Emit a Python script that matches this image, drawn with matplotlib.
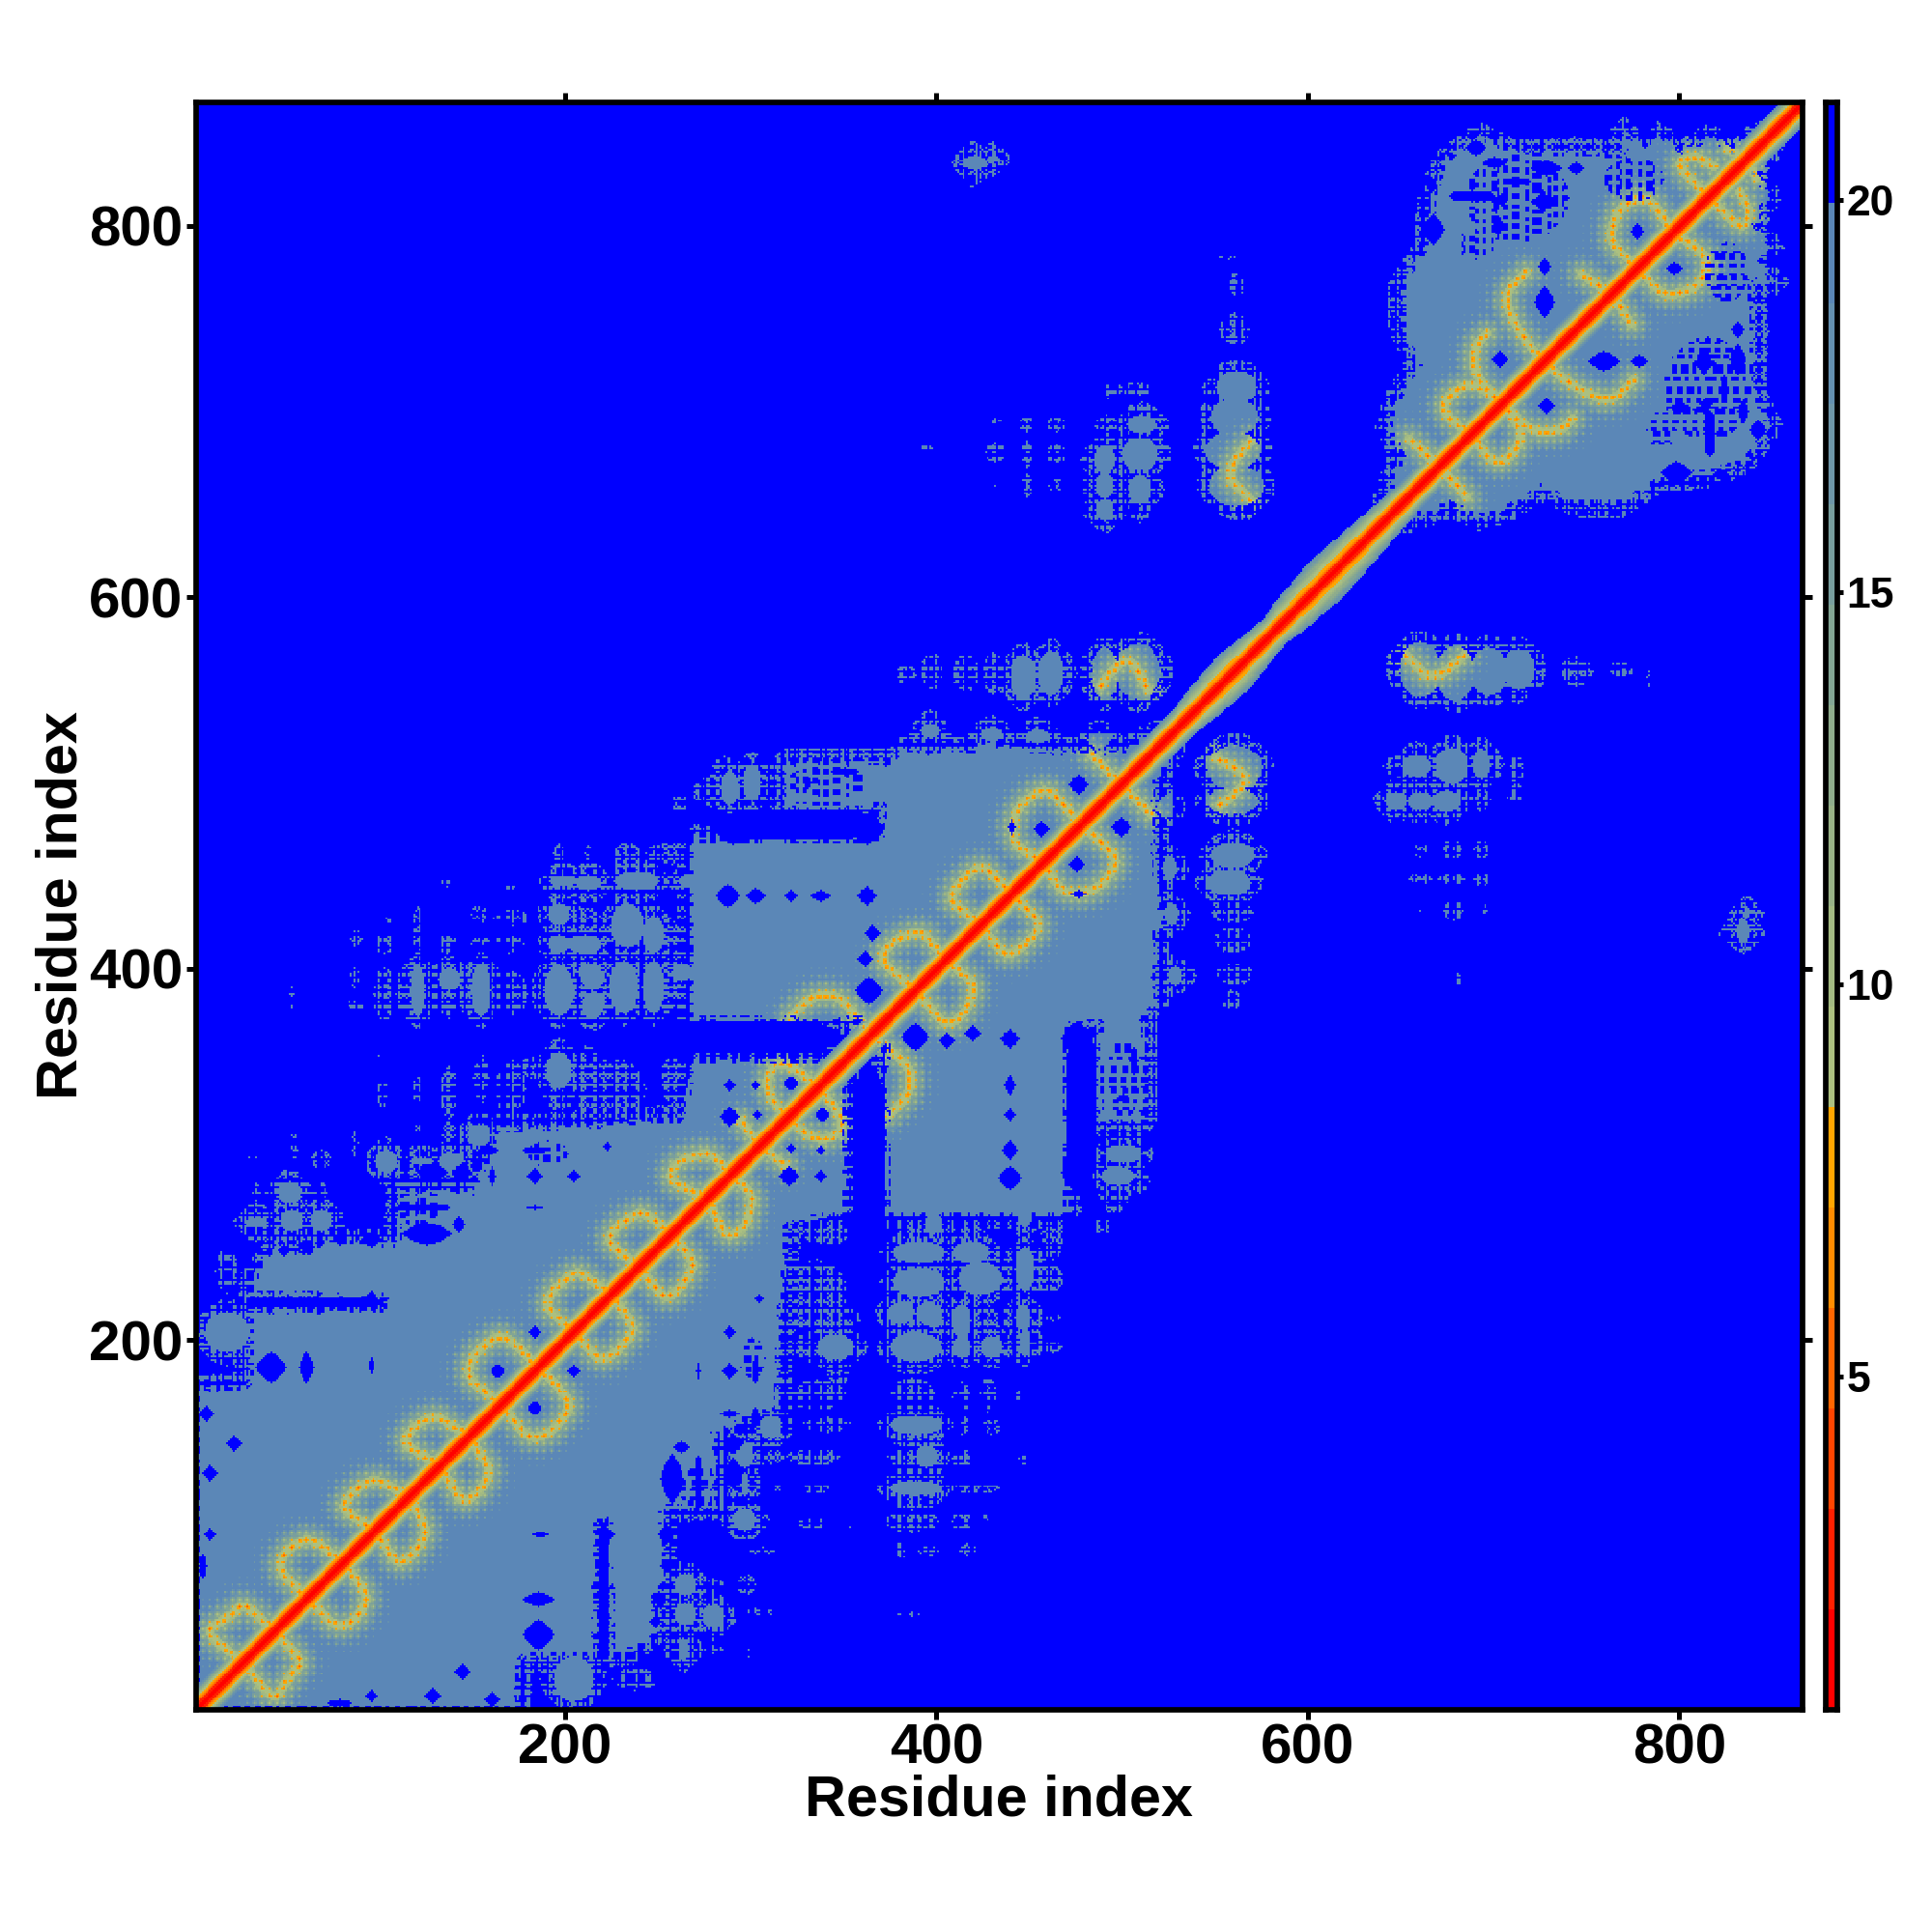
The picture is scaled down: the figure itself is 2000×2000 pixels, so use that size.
import numpy as np
import matplotlib
matplotlib.use("Agg")
import matplotlib.pyplot as plt
from matplotlib.colors import ListedColormap, BoundaryNorm
from matplotlib.path import Path

N_RES = 866
TICKS = [200, 400, 600, 800]
CB_TICKS = [5, 10, 15, 20]
LEVELS = [0.75 + 1.28125 * i for i in range(17)]
BAND_COLORS = ["#ff0000", "#ff2000", "#ff4500", "#ff6600", "#ff8c00", "#ffa500",
               "#acc080", "#a3ba82", "#98b287", "#8eac8c", "#82a594", "#789e9e",
               "#6e96a8", "#6490b0", "#5b87b7", "#0000ff"]
GRAY_VALUE = 19.0
BLUE_VALUE = 21.0

# mean distance by sequence separation |i-j|
DIAG_PROFILE = [1.0, 1.4, 2.2, 3.3, 4.8, 6.2, 7.6, 9.0, 10.5, 12.5, 14.5, 16.5, 18.5]
# widening of the outer diagonal band along the sequence
DIAG_MID = [500, 522, 532, 545, 560, 572, 582, 590, 610, 628, 640, 655]
DIAG_WIDEN = [1.0, 1.0, 1.0, 1.6, 1.9, 1.4, 1.1, 1.6, 2.1, 1.7, 1.4, 1.0]

# solid regions below the diagonal (residue x, residue y)
POLY_N1 = [(1, 1), (174, 1), (176, 28), (216, 28), (216, 100), (222, 104), (224, 30), (236, 32),
           (252, 44), (246, 55), (252, 70), (252, 108), (280, 110), (280, 150), (314, 162),
           (316, 205), (320, 262), (351, 268), (351, 350), (362, 362)]
POLY_N2 = [(372, 266), (470, 266), (470, 368), (487, 370), (487, 316), (511, 316), (511, 372),
           (517, 380), (518, 420), (524, 424), (519, 442), (517, 460), (517, 500), (523, 508),
           (528, 522), (372, 372)]
POLY_C = [(650, 640), (676, 649), (693, 642), (711, 649), (725, 658), (745, 650), (768, 649),
          (790, 663), (815, 666), (835, 672), (841, 680), (849, 692), (839, 715), (841, 743),
          (839, 770), (853, 769), (841, 781), (849, 788), (841, 802), (848, 815), (839, 833),
          (846, 836), (851, 847), (860, 855), (866, 866), (650, 650)]

# solid islands: x, y, rx, ry
BLOBS = [(204, 17, 11, 12), (345, 196, 10, 7), (388, 196, 14, 8), (380, 214, 7, 6), (395, 214, 7, 6),
         (413, 210, 5, 9), (413, 196, 5, 6), (429, 196, 6, 6), (447, 198, 3, 7), (446, 212, 4, 7),
         (310, 153, 6, 6), (388, 154, 14, 5), (296, 138, 5, 7), (394, 137, 6, 6), (388, 120, 14, 4),
         (296, 122, 2, 6), (296, 103, 6, 6), (264, 68, 6, 6), (264, 52, 6, 6), (279, 51, 6, 6),
         (263, 33, 3, 6), (447, 238, 5, 12), (423, 233, 12, 9), (418, 247, 10, 6), (390, 231, 14, 8),
         (390, 247, 14, 6), (398, 212, 5, 6), (382, 216, 5, 5), (398, 262, 5, 5), (447, 270, 4, 10),
         (497, 288, 9, 5), (500, 300, 10, 5), (526, 429, 4, 6), (525, 454, 4, 6), (523, 487, 4, 6),
         (528, 396, 4, 5),
         (660, 561, 11, 15), (679, 559, 10, 15), (697, 560, 10, 13), (713, 561, 9, 11),
         (677, 509, 9, 10), (693, 510, 5, 8), (658, 509, 8, 6), (647, 490, 6, 5), (660, 490, 7, 5),
         (674, 490, 7, 6), (560, 508, 15, 12), (559, 490, 14, 7), (559, 461, 12, 7), (557, 446, 12, 7),
         (834, 420, 4, 6), (836, 430, 2, 3)]
# loose, combed islands: x, y, rx, ry
SPARSE = [(337, 212, 22, 7), (331, 196, 8, 8), (427, 210, 6, 8), (462, 196, 5, 3), (462, 212, 4, 2),
          (335, 170, 16, 8), (347, 181, 6, 5), (386, 170, 13, 9), (413, 169, 5, 8), (427, 170, 5, 9),
          (444, 169, 2, 3), (341, 154, 14, 4), (413, 154, 4, 5), (429, 153, 6, 4), (310, 137, 8, 4),
          (333, 137, 14, 5), (380, 137, 7, 5), (413, 136, 5, 5), (446, 136, 2, 4), (421, 120, 12, 3),
          (335, 120, 7, 3), (314, 120, 2, 2), (333, 101, 8, 3), (353, 101, 4, 2), (386, 102, 14, 6),
          (413, 102, 5, 5), (425, 103, 2, 3), (306, 86, 7, 2), (381, 87, 3, 5), (395, 86, 5, 3),
          (416, 87, 5, 3), (279, 68, 6, 3), (297, 68, 5, 6), (302, 53, 10, 2), (386, 52, 7, 1),
          (279, 33, 5, 2), (298, 31, 2, 2), (237, 17, 12, 6), (263, 18, 1, 3), (447, 204, 4, 14),
          (416, 216, 6, 6), (462, 257, 6, 14), (460, 233, 8, 7), (495, 278, 8, 10), (489, 261, 5, 4),
          (335, 225, 16, 18), (340, 258, 12, 8), (500, 285, 14, 8), (530, 397, 8, 3), (528, 430, 6, 2),
          (645, 562, 5, 8), (744, 560, 9, 8), (768, 561, 7, 4), (783, 557, 1, 5), (658, 509, 10, 9),
          (647, 509, 7, 5), (712, 507, 4, 7), (692, 491, 6, 6), (712, 495, 3, 5), (677, 464, 5, 5),
          (693, 464, 4, 5), (660, 464, 4, 4), (677, 448, 7, 3), (693, 448, 4, 4), (660, 448, 6, 3),
          (678, 431, 5, 5), (694, 431, 2, 4), (660, 432, 3, 1), (559, 430, 11, 6), (559, 415, 10, 7),
          (560, 397, 10, 6), (558, 383, 6, 5), (833, 419, 13, 4), (711, 492, 4, 2), (711, 506, 4, 2),
          (680, 394, 2, 3)]
# blue holes inside the solid regions: x, y, rx, ry
HOLES = [(220, 64, 3, 36), (204, 183, 3, 3), (183, 163, 3.5, 3.5), (186, 95, 4, 1.5), (222, 95, 4, 3),
         (185, 60, 8, 4), (185, 41, 8, 8), (144, 21, 4, 4), (128, 8, 4, 4), (95, 8, 3, 3), (78, 4, 6, 2),
         (160, 6, 4, 4), (257, 125, 6, 13), (271, 123, 2, 14), (288, 183, 4, 4), (288, 160, 5, 2),
         (290, 144, 5, 5), (290, 128, 5, 8), (271, 183, 1, 4), (302, 183, 1.5, 6), (302, 158, 3, 5),
         (304, 222, 2, 2), (288, 204, 3, 3), (320, 337, 3, 3), (338, 321, 3.5, 3.5), (321, 303, 2.5, 2.5),
         (337, 302, 2, 2), (320, 288, 5, 5), (337, 288, 3, 3), (388, 363, 7, 7), (405, 361, 4, 4),
         (419, 365, 4, 4), (439, 362, 5, 5), (439, 337, 3, 5), (439, 321, 3, 3), (439, 302, 4, 5),
         (439, 287, 6, 6), (475, 362, 8, 9), (477, 323, 8, 46), (499, 476, 5, 5), (475, 456, 4, 4),
         (476, 440, 4, 2), (363, 298, 8, 50), (797, 777, 4, 3), (759, 727, 8, 5), (728, 703, 4, 4),
         (813, 727, 4, 7), (798, 667, 8, 6), (778, 727, 4, 3), (813, 726, 6, 3), (814, 704, 3, 3),
         (254, 95, 4, 5), (254, 78, 3, 3), (250, 60, 3, 4), (248, 48, 3, 3), (262, 142, 4, 3),
         (832, 728, 3.5, 5), (811, 701, 4, 1.5), (800, 702, 5, 3), (816, 688, 3, 12), (834, 700, 3, 6),
         (831, 728, 4, 8), (831, 744, 3, 4), (822, 666, 4, 3), (824, 712, 2, 7), (842, 690, 4, 5),
         (470, 290, 3, 6), (506, 350, 2, 7), (500, 330, 3, 2)]
# combed-away zones: x, y, rx, ry
FRAYED = [(815, 712, 24, 28), (825, 775, 12, 16), (790, 690, 8, 10), (500, 340, 9, 22),
          (270, 120, 9, 11), (300, 190, 7, 11), (800, 820, 8, 6)]

# orange ridges below the diagonal
RINGS = [
    [(26, 26), (36, 13), (43, 6), (48, 14), (53, 21), (58, 26), (48, 37), (43, 43)],
    [(60, 60), (68, 53), (75, 46), (82, 46), (89, 52), (93, 62), (86, 72), (80, 80)],
    [(97, 97), (103, 88), (109, 79), (116, 83), (121, 89), (125, 97), (120, 107), (115, 115)],
    [(132, 132), (138, 122), (144, 112), (151, 116), (156, 122), (159, 130), (154, 138), (148, 147)],
    [(165, 165), (172, 156), (179, 147), (189, 148), (197, 156), (203, 165), (195, 175), (185, 185)],
    [(204, 204), (211, 196), (218, 189), (226, 192), (232, 199), (237, 206), (231, 215), (224, 224)],
    [(239, 239), (246, 230), (253, 222), (260, 226), (265, 233), (269, 241), (263, 249), (257, 257)],
    [(276, 276), (281, 265), (286, 255), (296, 259), (301, 276), (296, 282), (290, 289)],
    [(304, 305), (312, 298), (318, 294)],
    [(319, 320), (328, 311), (340, 307), (350, 314), (345, 325), (337, 334)],
    [(366, 363), (374, 356), (382, 350), (386, 342), (384, 331), (374, 321)],
    [(388, 388), (396, 379), (404, 369), (414, 374), (421, 391), (412, 398), (404, 405)],
    [(423, 423), (430, 415), (437, 406), (448, 413), (456, 424), (447, 433), (439, 441)],
    [(456, 457), (462, 449), (468, 440), (485, 441), (498, 457), (490, 467), (478, 476)],
    [(499, 500), (507, 491), (515, 483)],
    [(671, 670), (678, 662), (685, 654)],
    [(686, 689), (692, 681), (699, 673), (707, 673), (716, 687), (711, 695), (705, 704)],
    [(705, 704), (719, 689), (735, 689), (742, 696)],
    [(726, 727), (738, 717), (749, 710), (763, 705), (775, 717)],
    [(763, 763), (767, 757), (774, 747)],
    [(778, 777), (790, 762), (806, 765), (813, 772), (815, 783), (806, 790), (797, 796)],
    [(815, 815), (825, 806), (834, 798), (838, 808), (832, 818)],
    [(836, 836), (841, 826)],
    [(652, 569), (660, 561), (664, 557), (673, 559), (684, 569)],
    [(550, 513), (561, 508), (567, 502), (561, 494), (552, 488)],
]

# long irregular line patterns of the ragged edges, and the dotted halo tile
ROW_COMB = ("11011010011101101110011011010111001101110100110111011010"
            "0111011011000110111010110011101001101101110")
COL_COMB = ("10110011101001101101011101100101110110100111011001101110"
            "101101001110110111001011011101")
ROW_COMB_2 = ("00100111001001100011010010011100010110010001101001000111"
              "0010100110001001011")
COL_COMB_2 = ("11011000110111001011000111010011000110110100011101100010"
              "1110010011011000101101")
ROW_PATCH = "1110011110001100111110011000111100111001111000110011111000110"
COL_PATCH = "11001110001111001100011110011100011100111100110001110001111"
PATCH_SHIFT = [0, 5, 2, 9, 3, 7, 1, 8, 4, 6, 11, 2, 10, 5]
DOT_TILE = [[0.0, 0.55, 1.0, 0.55],
            [0.55, 0.8, 1.0, 0.8],
            [1.0, 1.0, 1.0, 1.0],
            [0.55, 0.8, 1.0, 0.8]]

idx = np.arange(1, N_RES + 1)
X, Y = np.meshgrid(idx, idx)


def pattern(text, values):
    arr = np.array([c == "1" for c in text])
    return arr[values % len(text)]


COMB_A = pattern(ROW_COMB, Y) & pattern(COL_COMB, X)
COMB_B = pattern(ROW_COMB_2, Y) & pattern(COL_COMB_2, X)
PATCH = pattern(ROW_PATCH, Y) & pattern(COL_PATCH, X)
SHIFTED = pattern(ROW_PATCH, Y) & pattern(COL_PATCH, X + np.array(PATCH_SHIFT)[(Y // 6) % len(PATCH_SHIFT)])
COMB = (COMB_A | COMB_B) & ~PATCH


def ellipse(x, y, rx, ry, power=2.0):
    return (np.abs(X - x) / rx) ** power + (np.abs(Y - y) / ry) ** power <= 1


def polygon(points):
    path = Path(points + [points[0]])
    inside = path.contains_points(np.column_stack([X.ravel(), Y.ravel()]))
    return inside.reshape(X.shape)


def grow(mask, steps):
    out = mask.copy()
    for _ in range(steps):
        new = out.copy()
        new[1:, :] |= out[:-1, :]
        new[:-1, :] |= out[1:, :]
        new[:, 1:] |= out[:, :-1]
        new[:, :-1] |= out[:, 1:]
        out = new
    return out


def smooth(points):
    pts = np.array(points, float)
    for _ in range(2):
        q = 0.75 * pts[:-1] + 0.25 * pts[1:]
        r = 0.25 * pts[:-1] + 0.75 * pts[1:]
        mid_pts = np.empty((2 * len(q), 2))
        mid_pts[0::2], mid_pts[1::2] = q, r
        pts = np.vstack([pts[:1], mid_pts, pts[-1:]])
    out = []
    for a, b in zip(pts[:-1], pts[1:]):
        n = max(int(np.hypot(*(b - a)) * 2), 1)
        for t in range(n):
            out.append(a + (b - a) * t / n)
    out.append(pts[-1])
    return np.array(out)


solid = np.zeros(X.shape, bool)
for poly in (POLY_N1, POLY_N2, POLY_C):
    solid |= polygon(poly)
# ragged inner rim of the polygons only
rim = solid & grow(~solid, 3)
solid_ragged = solid & ~(rim & SHIFTED)
gray = solid_ragged.copy()
blob_mask = np.zeros(X.shape, bool)
for b in BLOBS:
    blob_mask |= ellipse(*b)
gray |= blob_mask
gray |= grow(solid | blob_mask, 2) & (COMB | ~SHIFTED & blob_mask)
gray |= grow(solid | blob_mask, 7) & COMB
for s in SPARSE:
    gray |= ellipse(*s) & COMB
for h in HOLES:
    long_hole = max(h[2], h[3]) >= 3 * min(h[2], h[3])
    gray &= ~ellipse(*h, power=3.0 if long_hole else 1.4)
for f in FRAYED:
    gray &= ~(ellipse(*f) & SHIFTED)

Z = np.full(X.shape, BLUE_VALUE)
Z[gray] = GRAY_VALUE

tile = np.array(DOT_TILE)
T = tile[Y % 4, X % 4]
dist = np.full(X.shape, 99.0)
for ring in RINGS:
    p = smooth(ring)
    x0, x1 = int(p[:, 0].min()) - 16, int(p[:, 0].max()) + 16
    y0, y1 = int(p[:, 1].min()) - 16, int(p[:, 1].max()) + 16
    x0, y0 = max(x0, 1), max(y0, 1)
    x1, y1 = min(x1, N_RES), min(y1, N_RES)
    xs, ys = np.meshgrid(np.arange(x0, x1 + 1), np.arange(y0, y1 + 1))
    d = np.min(np.hypot(xs[..., None] - p[:, 0], ys[..., None] - p[:, 1]), axis=-1)
    sub = dist[y0 - 1:y1, x0 - 1:x1]
    dist[y0 - 1:y1, x0 - 1:x1] = np.minimum(sub, d)
ring_value = 5.6 + 0.8 * dist + T * np.where(dist < 2.5, 3.2, 6.5)
Z = np.where(gray & (dist < 16), np.minimum(Z, ring_value), Z)

sep = np.abs(X - Y).astype(float)
mid = (X + Y) / 2
widen = np.interp(mid, DIAG_MID, DIAG_WIDEN)
k = np.where(sep <= 6, sep, 6 + (sep - 6) / widen)
profile = np.interp(k, np.arange(len(DIAG_PROFILE)), DIAG_PROFILE, right=BLUE_VALUE)
Z = np.minimum(Z, profile)

# the map is symmetric: mirror the part below the diagonal
lower = X >= Y
Z = np.where(lower, Z, Z.T)

cmap = ListedColormap(BAND_COLORS)
norm = BoundaryNorm(LEVELS, cmap.N)

PX = 2000.0
plt.rcParams["font.family"] = ["Liberation Sans", "DejaVu Sans"]
fig = plt.figure(figsize=(10, 10), dpi=200, facecolor="white")
ax = fig.add_axes([202.5 / PX, 1 - 1770 / PX, (1866 - 202.5) / PX, (1770 - 106) / PX])
ax.imshow(Z, origin="lower", extent=(0.98, N_RES + 0.5, 0.98, N_RES + 0.5), aspect="auto",
          cmap=cmap, norm=norm, interpolation="nearest")
ax.set_xlim(0.98, N_RES + 0.5)
ax.set_ylim(0.98, N_RES + 0.5)
ax.set_xticks(TICKS)
ax.set_yticks(TICKS)
ax.tick_params(axis="both", which="major", length=3.6, width=1.8, top=True, right=True,
               labelsize=21, pad=1.2, direction="out")
for lab in ax.get_xticklabels() + ax.get_yticklabels():
    lab.set_fontweight("bold")
for sp in ax.spines.values():
    sp.set_linewidth(2.05)
ax.set_xlabel("Residue index", fontsize=21.4, fontweight="bold", va="center")
ax.set_ylabel("Residue index", fontsize=21.4, fontweight="bold", va="center")
ax.xaxis.set_label_coords(1034 / PX, 1 - 1864 / PX, transform=fig.transFigure)
ax.yaxis.set_label_coords(64 / PX, 1 - 937 / PX, transform=fig.transFigure)

cax = fig.add_axes([1889.5 / PX, 1 - 1770 / PX, 12 / PX, (1770 - 106) / PX])
cb_vals = np.array([(LEVELS[i] + LEVELS[i + 1]) / 2 for i in range(16)])[:, None]
cax.imshow(cb_vals, origin="lower", extent=(0, 1, LEVELS[0], LEVELS[-1]), aspect="auto",
           cmap=cmap, norm=norm, interpolation="nearest")
cax.set_xticks([])
cax.yaxis.tick_right()
cax.set_yticks(CB_TICKS)
cax.tick_params(axis="y", length=2.3, width=1.8, labelsize=16, pad=1.2)
for lab in cax.get_yticklabels():
    lab.set_fontweight("bold")
for sp in cax.spines.values():
    sp.set_linewidth(2.05)

fig.savefig("out.png", dpi=200, facecolor="white")
